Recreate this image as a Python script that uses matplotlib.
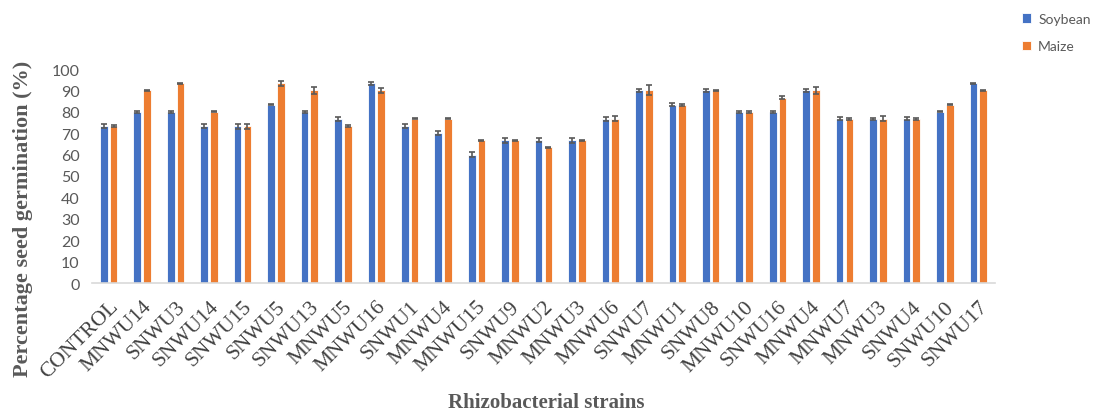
import numpy as np
import matplotlib.pyplot as plt

strains = ['CONTROL', 'MNWU14', 'SNWU3', 'SNWU14', 'SNWU15', 'SNWU5', 'SNWU13',
           'MNWU5', 'MNWU16', 'SNWU1', 'MNWU4', 'MNWU15', 'SNWU9', 'MNWU2',
           'MNWU3', 'MNWU6', 'SNWU7', 'MNWU1', 'SNWU8', 'MNWU10', 'SNWU16',
           'MNWU4', 'MNWU7', 'MNWU3', 'SNWU4', 'SNWU10', 'SNWU17']
soybean = [73.33, 80, 80, 73.33, 73.33, 83.33, 80, 76.67, 93.33, 73.33,
           70, 60, 66.67, 66.67, 66.67, 76.67, 90, 83.33, 90, 80, 80,
           90, 76.67, 76.67, 76.67, 80, 93.33]
maize = [73.33, 90, 93.33, 80, 73.33, 93.33, 90, 73.33, 90, 76.67,
         76.67, 66.67, 66.67, 63.33, 66.67, 76.67, 90, 83.33, 90, 80, 86.67,
         90, 76.67, 76.67, 76.67, 83.33, 90]
soybean_err = [0.8, 0.6, 0.6, 0.8, 1.2, 0.3, 0.5, 1.0, 0.8, 0.8,
               0.8, 1.2, 1.2, 1.0, 1.2, 0.8, 0.6, 0.6, 0.8, 0.5, 0.6,
               0.6, 0.7, 0.6, 0.7, 0.3, 0.3]
maize_err = [0.4, 0.2, 0.2, 0.3, 1.2, 1.2, 1.5, 0.4, 1.2, 0.2,
             0.2, 0.2, 0.3, 0.2, 0.2, 1.2, 2.3, 0.5, 0.3, 0.4, 0.6,
             1.5, 0.5, 1.2, 0.3, 0.2, 0.3]

blue = '#4472C4'
orange = '#ED7D31'
grey = '#595959'

fig = plt.figure(figsize=(10.98, 4.14), dpi=100)
ax = fig.add_axes([92 / 1098, 1 - 284 / 414, 903 / 1098, 214 / 414])

x = np.arange(len(strains))
w = 0.23
off = 0.145
ekw = dict(ecolor=grey, elinewidth=1.2, capsize=2.5, capthick=1.2)
ax.bar(x - off, soybean, w, yerr=soybean_err, color=blue, edgecolor='white',
       linewidth=0.6, error_kw=ekw, label='Soybean')
ax.bar(x + off, maize, w, yerr=maize_err, color=orange, edgecolor='white',
       linewidth=0.6, error_kw=ekw, label='Maize')

ax.set_xlim(-0.5, len(strains) - 0.5)
ax.set_ylim(0, 100)
ax.set_yticks(np.arange(0, 101, 10))
ax.tick_params(axis='y', length=0, labelsize=11.5, labelcolor=grey, pad=9)
for lbl in ax.get_yticklabels():
    lbl.set_family('Lato')
ax.tick_params(axis='x', length=0, pad=10)
ax.set_xticks(x)
ax.set_xticklabels(strains, rotation=45, ha='right', rotation_mode='anchor',
                   family='Liberation Serif', fontsize=15.5, color='#404040')
for s in ['top', 'right', 'left']:
    ax.spines[s].set_visible(False)
ax.spines['bottom'].set_color('#d9d9d9')
ax.spines['bottom'].set_linewidth(1.2)

fig.text(23 / 1098, 1 - 219 / 414, 'Percentage seed germination (%)', rotation=90,
         ha='center', va='center', family='Liberation Serif', fontweight='bold',
         fontsize=16, color=grey)
fig.text(546 / 1098, 1 - 403 / 414, 'Rhizobacterial strains', ha='center', va='center',
         family='Liberation Serif', fontweight='bold', fontsize=15, color=grey)

ax.legend(loc='upper left', bbox_to_anchor=(1009 / 1098, 1 - 1 / 414),
          bbox_transform=fig.transFigure, frameon=False,
          prop={'family': 'Lato', 'size': 10}, labelcolor=grey, handlelength=0.7,
          handleheight=0.7, handletextpad=0.5, labelspacing=1.15)

fig.savefig('out.png', dpi=100)
